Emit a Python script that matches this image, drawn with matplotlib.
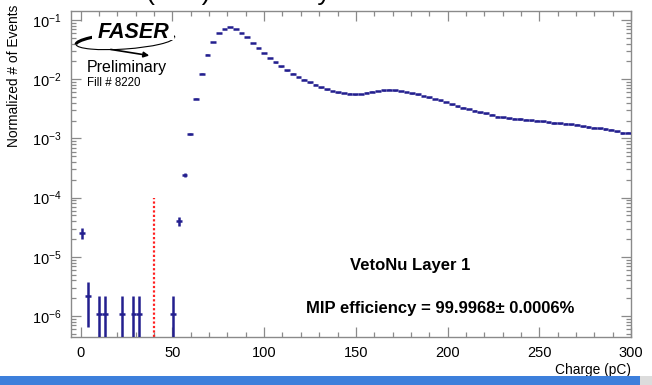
import numpy as np
import matplotlib
matplotlib.use("Agg")
import matplotlib.pyplot as plt
from matplotlib.ticker import MultipleLocator, LogLocator
from matplotlib.patches import Rectangle, Arc, FancyArrowPatch

plt.rcParams['font.family'] = ['Liberation Sans', 'DejaVu Sans']
plt.rcParams['mathtext.fontset'] = 'custom'
plt.rcParams['mathtext.rm'] = 'Liberation Sans'
plt.rcParams['mathtext.it'] = 'Liberation Sans:italic'
plt.rcParams['mathtext.bf'] = 'Liberation Sans:bold'

# Histogram definition: 100 bins from -10 to 300 pC
hist_lo = -10.0
hist_hi = 300.0
n_bins = 100
event_weight = 1.08e-6  # normalized weight of one event

# Normalized bin contents (0 = empty bin)
values = [
    0, 0, 0, 2.5e-5, 2.2e-6, 0, 1.08e-6, 1.08e-6, 0, 0,
    1.08e-6, 0, 1.08e-6, 1.08e-6, 0, 0, 0, 0, 0, 1.08e-6,
    4.0e-5, 2.4e-4, 1.19e-3, 4.69e-3, 1.24e-2, 2.60e-2, 4.30e-2, 6.11e-2, 7.13e-2, 7.62e-2,
    6.95e-2, 6.11e-2, 5.09e-2, 4.08e-2, 3.36e-2, 2.74e-2, 2.28e-2, 1.93e-2, 1.65e-2, 1.41e-2,
    1.24e-2, 1.10e-2, 9.8e-3, 8.86e-3, 8.07e-3, 7.29e-3, 6.74e-3, 6.32e-3, 6.01e-3, 5.85e-3,
    5.72e-3, 5.59e-3, 5.65e-3, 5.9e-3, 6.15e-3, 6.3e-3, 6.45e-3, 6.65e-3, 6.45e-3, 6.35e-3,
    6.08e-3, 5.78e-3, 5.56e-3, 5.20e-3, 4.94e-3, 4.63e-3, 4.40e-3, 4.12e-3, 3.76e-3, 3.48e-3,
    3.30e-3, 3.14e-3, 2.94e-3, 2.76e-3, 2.66e-3, 2.49e-3, 2.33e-3, 2.26e-3, 2.18e-3, 2.16e-3,
    2.13e-3, 2.07e-3, 2.02e-3, 2.00e-3, 1.94e-3, 1.87e-3, 1.82e-3, 1.80e-3, 1.78e-3, 1.73e-3,
    1.71e-3, 1.60e-3, 1.56e-3, 1.52e-3, 1.48e-3, 1.44e-3, 1.40e-3, 1.32e-3, 1.23e-3, 1.25e-3,
]

threshold = 40.0
threshold_top = 1e-4
xticks_major = [0, 50, 100, 150, 200, 250, 300]

label_layer = "VetoNu Layer 1"
label_eff = "MIP efficiency = 99.9968\u00b1 0.0006%"
title_text = "Veto (MIP) Efficiency"

# ---------------------------------------------------------------
vals = np.array(values, dtype=float)
edges = np.linspace(hist_lo, hist_hi, n_bins + 1)
centers = 0.5 * (edges[:-1] + edges[1:])
width = edges[1] - edges[0]
mask = vals > 0
err = np.sqrt(vals * event_weight)
lower = np.minimum(err, vals * 0.99999)

W, H = 652, 385
fig = plt.figure(figsize=(W / 100, H / 100), dpi=100)
L, R, T, B = 71, 631, 11, 336.7
ax = fig.add_axes([L / W, (H - B) / H, (R - L) / W, (B - T) / H])

col = '#231f8f'
ax.errorbar(centers[mask], vals[mask], xerr=width / 2,
            yerr=[lower[mask], err[mask]], fmt='none',
            ecolor=col, elinewidth=1.8, capsize=0, zorder=3)

ax.set_yscale('log')
ax.set_xlim(-5.3, 300)
ax.set_ylim(4.47e-7, 0.142)

ax.vlines(threshold, 4.47e-7, threshold_top, colors='#ff2020',
          linestyles=(0, (1, 1)), linewidth=1.6, zorder=2)

ax.xaxis.set_major_locator(MultipleLocator(50))
ax.xaxis.set_minor_locator(MultipleLocator(10))
ax.set_xticks(xticks_major)
ax.yaxis.set_major_locator(LogLocator(base=10, numticks=20))
ax.yaxis.set_minor_locator(LogLocator(base=10, subs=np.arange(2, 10), numticks=20))

spc = '#8a8a8a'
for s in ax.spines.values():
    s.set_color(spc)
    s.set_linewidth(1.0)
ax.tick_params(which='both', direction='in', top=True, right=True,
               color=spc, labelsize=10.5, labelcolor='black')
ax.tick_params(which='major', length=7.5, width=0.9)
ax.tick_params(which='minor', length=3.8, width=0.9)
ax.tick_params(axis='x', which='major', pad=7)
ax.tick_params(axis='y', which='major', pad=7)
ax.yaxis.set_minor_formatter(matplotlib.ticker.NullFormatter())

ax.set_ylabel('Normalized # of Events', fontsize=9.9, loc='top')
ax.yaxis.set_label_coords(-0.090, 1.02)
ax.set_xlabel('Charge (pC)', fontsize=9.9, loc='right')
ax.xaxis.set_label_coords(1.0, -0.081)

ax.text(0.605, 0.220, label_layer, transform=ax.transAxes, ha='center',
        va='center', fontsize=12, fontweight='bold')
ax.text(0.659, 0.088, label_eff, transform=ax.transAxes, ha='center',
        va='center', fontsize=12, fontweight='bold')

# overlay in pixel coordinates
ov = fig.add_axes([0, 0, 1, 1], zorder=5)
ov.set_xlim(0, W)
ov.set_ylim(H, 0)
ov.axis('off')
ov.patch.set_alpha(0)

# bottom slide band
ov.add_patch(Rectangle((0, 376), 640, 9, color='#3d7fdb', lw=0))
ov.add_patch(Rectangle((640, 376), 12, 9, color='#dcdcdc', lw=0))

# cropped title (only descenders visible)
ov.text(86, 0.3, title_text, ha='left', va='baseline', fontsize=19)

# FASER logo
ov.add_patch(Arc((125, 41), 98, 16, angle=-4, theta1=180, theta2=360,
                 color='black', lw=2.2))
ov.add_patch(Arc((125, 41), 98, 16, angle=-4, theta1=0, theta2=180,
                 color='black', lw=0.8))
ov.add_patch(Rectangle((92, 25), 82, 15, color='white', lw=0))
ov.text(133, 33, 'FASER', ha='center', va='center', fontsize=15.5,
        fontweight='bold', fontstyle='italic')
ov.add_patch(FancyArrowPatch((108, 49), (152, 56), arrowstyle='-|>',
                             mutation_scale=8, color='black', lw=1.2))
ov.text(87, 72, 'Preliminary', ha='left', va='baseline', fontsize=11.5)
ov.text(87, 86, 'Fill # 8220', ha='left', va='baseline', fontsize=8.3)

fig.savefig('out.png', dpi=100)
